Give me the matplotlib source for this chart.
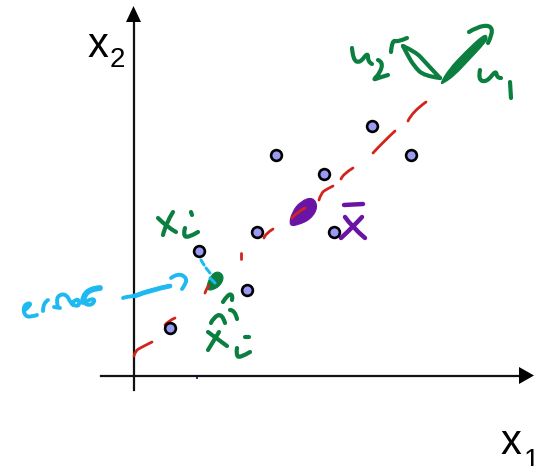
import matplotlib
matplotlib.use('Agg')
import matplotlib.pyplot as plt
from matplotlib.path import Path
from matplotlib.patches import PathPatch, Polygon

# everything is in image pixels, y going down
point_x = [170, 199, 247, 257, 276, 324, 334, 372, 411]
point_y = [328, 251, 290, 232, 155, 174, 232, 126, 155]

red_strokes = [
    [(134, 356), (135, 351), (142, 347), (152, 342)],
    [(165, 325), (168, 321), (175, 318)],
    [(205, 293), (207, 287), (209, 286)],
    [(241, 253), (241, 259)],
    [(264, 238), (265, 234), (273, 229)],
    [(292, 218), (297, 212), (305, 208)],
    [(319, 200), (321, 193), (327, 189), (333, 186)],
    [(341, 179), (343, 174), (353, 168)],
    [(373, 153), (383, 142), (395, 131)],
    [(408, 121), (412, 112), (426, 102)],
]
green_strokes = [
    # u2 arrow
    [(440, 78), (424, 76), (414, 66), (407, 54), (403, 46)],
    [(403, 46), (416, 52), (425, 62), (440, 78)],
    [(391, 52), (392, 40), (398, 42), (407, 38)],
    # u1 hook
    [(469, 32), (477, 27), (490, 25), (493, 33), (488, 43)],
    # u2 label
    [(352, 48), (353, 60), (360, 63), (368, 52), (368, 62), (372, 64)],
    [(378, 60), (383, 62), (380, 73), (373, 80), (378, 78), (388, 75)],
    # u1 label
    [(480, 70), (478, 80), (487, 82), (496, 70), (497, 78), (501, 78)],
    [(510, 82), (511, 98)],
    # upper x i
    [(158, 218), (167, 227), (176, 232)],
    [(173, 212), (166, 223), (163, 235)],
    [(185, 228), (183, 235), (188, 238), (198, 232)],
    [(191, 212), (192, 215)],
    # lower x i
    [(208, 332), (227, 346)],
    [(219, 332), (208, 350)],
    [(237, 348), (236, 355), (240, 358), (250, 352)],
    [(245, 337), (249, 337)],
    # squiggle above lower x
    [(223, 302), (228, 294), (233, 295), (232, 300)],
    [(230, 310), (235, 310), (237, 319)],
    [(211, 323), (213, 318), (222, 313), (225, 323)],
]
u1_wedge = [(440, 84), (449, 69), (464, 53), (484, 34), (488, 37), (485, 43), (469, 60), (455, 75), (444, 83)]
green_blob = [(207, 285), (211, 275), (218, 271), (224, 276), (221, 285), (213, 290), (207, 290)]

purple_blob = [(289, 226), (292, 212), (301, 201), (313, 197), (318, 207), (311, 219), (298, 225)]
purple_strokes = [
    [(345, 217), (352, 227), (365, 238)],
    [(362, 217), (353, 227), (341, 238)],
    [(344, 205), (363, 204)],
]

blue_strokes = [
    [(123, 298), (125, 297), (135, 296), (150, 290), (170, 286)],
    [(171, 278), (178, 273), (187, 278), (185, 285), (182, 289)],
    # error
    [(25, 310), (32, 304), (27, 303), (23, 308), (25, 316), (31, 317), (37, 315)],
    [(43, 311), (43, 303), (48, 300)],
    [(58, 307), (56, 300), (60, 294), (67, 295), (70, 302), (73, 305)],
    [(54, 307), (60, 308)],
    [(72, 303), (77, 298), (80, 303), (77, 307), (72, 304)],
    [(100, 288), (90, 289), (83, 297), (83, 302), (89, 306), (95, 302), (93, 298), (87, 301)],
]
blue_dashes = [
    [(201, 260), (204, 265)],
    [(206, 268), (210, 273)],
    [(210, 278), (215, 283)],
]

GREEN = '#0b7f3f'
RED = '#d2231c'
PURPLE = '#6a14a6'
BLUE = '#1fb9f2'


def smooth(ax, pts, color, lw, zorder=3):
    # quadratic curves through the midpoints so the ink looks hand drawn
    if len(pts) == 2:
        verts, codes = pts, [Path.MOVETO, Path.LINETO]
    else:
        verts = [pts[0]]
        codes = [Path.MOVETO]
        for i in range(1, len(pts) - 1):
            if i < len(pts) - 2:
                end = ((pts[i][0] + pts[i + 1][0]) / 2, (pts[i][1] + pts[i + 1][1]) / 2)
            else:
                end = pts[-1]
            verts += [pts[i], end]
            codes += [Path.CURVE3, Path.CURVE3]
    ax.add_patch(PathPatch(Path(verts, codes), fill=False, edgecolor=color, lw=lw,
                           capstyle='round', joinstyle='round', zorder=zorder))


def blob(ax, pts, color, zorder=4):
    # same idea but closed and filled
    n = len(pts)
    mid = [((pts[i][0] + pts[(i + 1) % n][0]) / 2, (pts[i][1] + pts[(i + 1) % n][1]) / 2) for i in range(n)]
    verts = [mid[-1]]
    codes = [Path.MOVETO]
    for i in range(n):
        verts += [pts[i], mid[i]]
        codes += [Path.CURVE3, Path.CURVE3]
    ax.add_patch(PathPatch(Path(verts, codes), facecolor=color, edgecolor=color, lw=0.8, zorder=zorder))


fig = plt.figure(figsize=(5.35, 4.66), dpi=100)
ax = fig.add_axes([0, 0, 1, 1])
ax.set_xlim(0, 535)
ax.set_ylim(466, 0)
ax.axis('off')

# axes with arrow heads
ax.plot([133.5, 133.5], [20, 390], color='#111111', lw=1.6, zorder=1)
ax.plot([101, 521], [375.5, 375.5], color='#111111', lw=1.6, zorder=1)
ax.add_patch(Polygon([(133.5, 6), (126, 22), (141, 22)], closed=True, color='black', lw=0))
ax.add_patch(Polygon([(534, 375.5), (519, 367), (519, 384)], closed=True, color='black', lw=0))
ax.plot([197], [378], 's', color='#1a3a9a', ms=1.5, mew=0)

for s in red_strokes:
    smooth(ax, s, RED, 2.0, zorder=5)
for s in green_strokes:
    smooth(ax, s, GREEN, 3.0)
for s in purple_strokes:
    smooth(ax, s, PURPLE, 3.2)
for s in blue_strokes:
    smooth(ax, s, BLUE, 2.8)
smooth(ax, blue_strokes[0][2:], BLUE, 3.4)
smooth(ax, blue_strokes[-1][:4], BLUE, 4.2)
for s in blue_dashes:
    smooth(ax, s, BLUE, 2.2, zorder=5)

blob(ax, u1_wedge, GREEN, zorder=3)
blob(ax, green_blob, GREEN)
blob(ax, purple_blob, PURPLE)

ax.scatter(point_x, point_y, s=60, facecolor='#9a9af5', edgecolor='black', linewidth=1.9, zorder=6)

# axis names
font = ['Liberation Sans']
ax.text(88, 57, 'x', fontsize=30, family=font, va='baseline', ha='left')
ax.text(110, 67, '2', fontsize=20, family=font, va='baseline', ha='left')
ax.text(501, 454, 'x', fontsize=30, family=font, va='baseline', ha='left')
ax.text(524, 468, '1', fontsize=20, family=font, va='baseline', ha='left')

fig.savefig('out.png', dpi=100)
